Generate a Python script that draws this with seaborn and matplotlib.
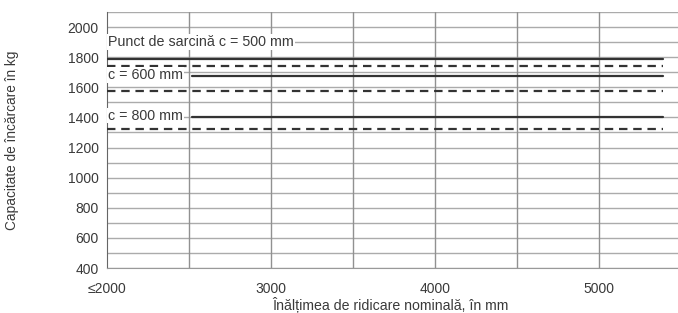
import numpy as np
import pandas as pd
import matplotlib
matplotlib.use('Agg')
import matplotlib.pyplot as plt
import seaborn as sns

# load points (mm) and capacities (kg)
load_labels = ['Punct de sarcină c = 500 mm', 'c = 600 mm', 'c = 800 mm']
solid_start = [2000, 2520, 2520]
solid_end = [5390, 5390, 5390]
solid_kg = [1785, 1678, 1405]
dashed_start = [2000, 2000, 2000]
dashed_end = [5390, 5390, 5390]
dashed_kg = [1742, 1573, 1320]

x_ticks = [2000, 3000, 4000, 5000]
x_ticklabels = ['≤2000', '3000', '4000', '5000']
y_ticks = [400, 600, 800, 1000, 1200, 1400, 1600, 1800, 2000]

rows = []
for i, lab in enumerate(load_labels):
    rows.append({'id': f's{i}', 'kind': 'solid', 'x': solid_start[i], 'kg': solid_kg[i]})
    rows.append({'id': f's{i}', 'kind': 'solid', 'x': solid_end[i], 'kg': solid_kg[i]})
    rows.append({'id': f'd{i}', 'kind': 'dashed', 'x': dashed_start[i], 'kg': dashed_kg[i]})
    rows.append({'id': f'd{i}', 'kind': 'dashed', 'x': dashed_end[i], 'kg': dashed_kg[i]})
df = pd.DataFrame(rows)

sns.set_style('white')
plt.rcParams['font.family'] = ['Liberation Sans', 'DejaVu Sans']
fig = plt.figure(figsize=(6.78, 3.13), dpi=100)
ax = fig.add_axes([107 / 678, 1 - 268 / 313, (681 - 107) / 678, (268 - 12) / 313])

# grid
for yv in range(400, 2101, 100):
    ax.axhline(yv, color='#ababab', lw=1.0, zorder=0)
for xv in np.arange(2500, 5501, 500):
    ax.axvline(xv, color='#919191', lw=1.0, zorder=0)

for kind, ls in [('solid', '-'), ('dashed', (0, (3.8, 2.6)))]:
    sub = df[df['kind'] == kind]
    for key, g in sub.groupby('id'):
        sns.lineplot(data=g, x='x', y='kg', ax=ax, color='#333333', lw=1.6,
                     linestyle=ls, legend=False, zorder=3)

label_pos = [(2008, 1900), (2008, 1680), (2008, 1412)]
for lab, (xp, yp) in zip(load_labels, label_pos):
    ax.text(xp, yp, lab, fontsize=10.3, color='#3a3a3a', va='center', ha='left',
            bbox=dict(facecolor='white', edgecolor='none', pad=0.6), zorder=4)

ax.set_xlim(2000, 5500)
ax.set_ylim(400, 2100)
ax.set_xticks(x_ticks)
ax.set_xticklabels(x_ticklabels)
ax.set_yticks(y_ticks)
ax.tick_params(axis='both', length=0, labelsize=10, colors='#3a3a3a')
ax.tick_params(axis='x', pad=10)
ax.tick_params(axis='y', pad=6)
for s in ['top', 'right']:
    ax.spines[s].set_visible(False)
ax.spines['left'].set_color('#666666')
ax.spines['bottom'].set_color('#999999')
ax.set_xlabel('Înălțimea de ridicare nominală, în mm', fontsize=10.2, color='#3a3a3a')
ax.xaxis.set_label_coords((390 - 107) / (681 - 107), -0.115)
ax.set_ylabel('Capacitate de încărcare în kg', fontsize=9.8, color='#3a3a3a')
ax.yaxis.set_label_coords(-(107 - 19) / (681 - 107), 0.5)

fig.savefig('out.png', dpi=100)
